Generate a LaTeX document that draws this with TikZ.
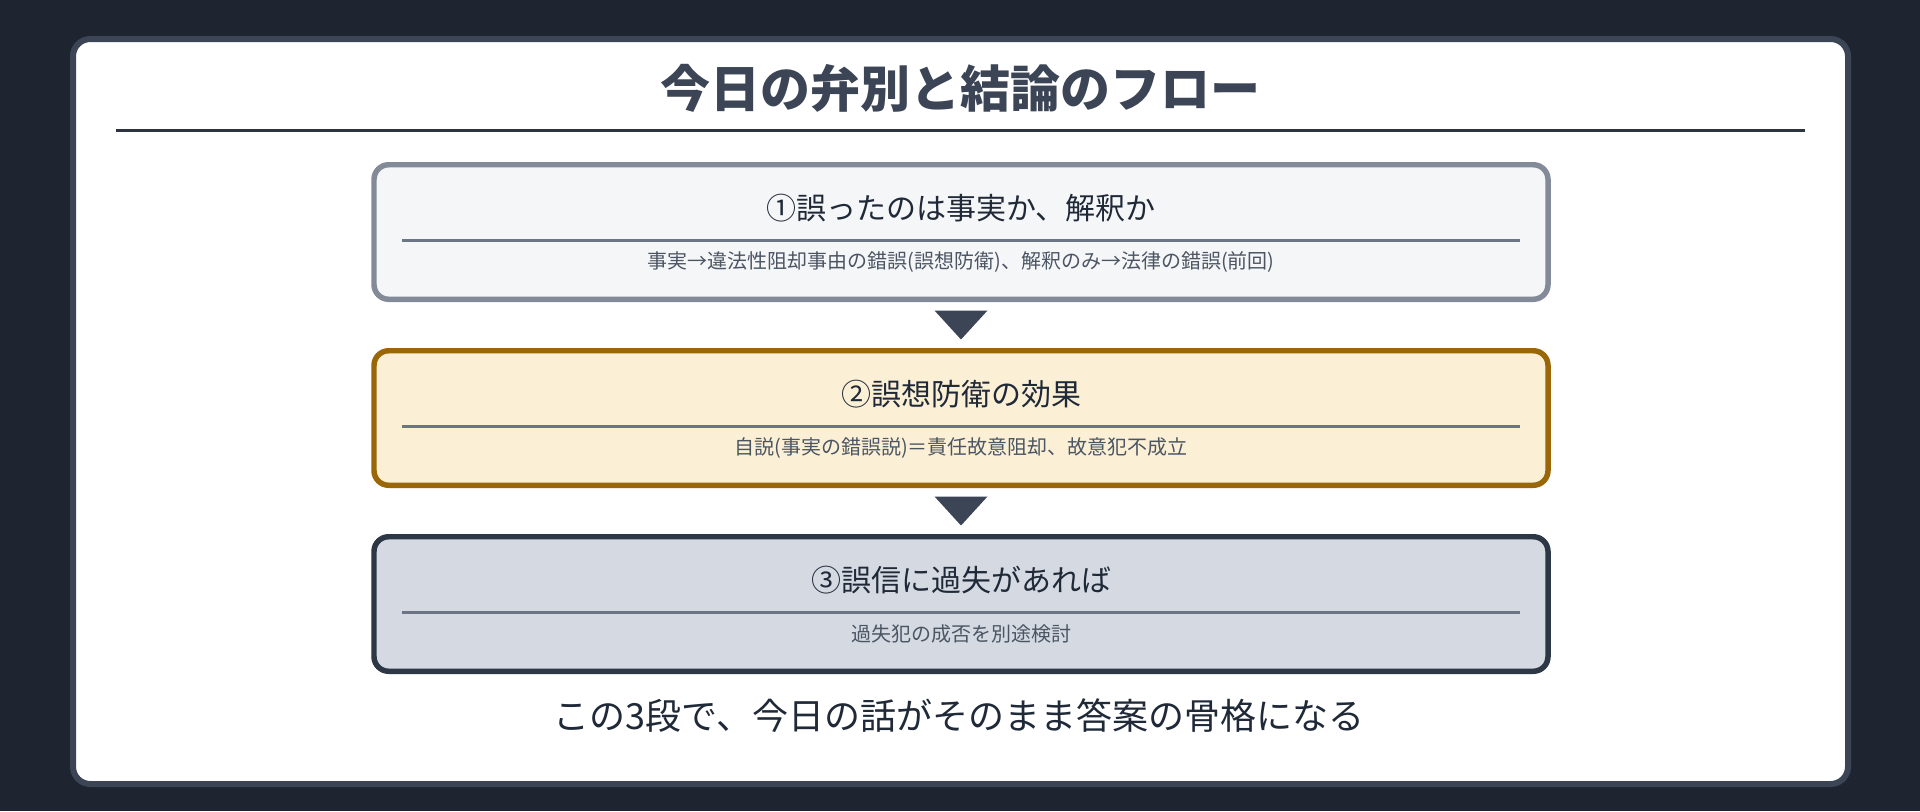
\documentclass[tikz,border=0pt]{standalone}
\usepackage{fontspec}
\setmainfont{Noto Sans CJK JP}
\usetikzlibrary{calc}
\definecolor{bgdark}{HTML}{1E2530}
\definecolor{panelline}{HTML}{3C4555}
\definecolor{titleslate}{HTML}{3C4555}
\definecolor{titlerule}{HTML}{2D3440}
\definecolor{boxAfill}{HTML}{F5F6F8}
\definecolor{boxAline}{HTML}{838B99}
\definecolor{boxBfill}{HTML}{FBF0D5}
\definecolor{boxBline}{HTML}{996608}
\definecolor{boxCfill}{HTML}{D5DAE2}
\definecolor{boxCline}{HTML}{2E3746}
\definecolor{rulegray}{HTML}{6B7585}
\definecolor{inkdark}{HTML}{1F2937}
\definecolor{subgray}{HTML}{4B5563}
\begin{document}
\begin{tikzpicture}[x=0.75pt,y=0.75pt,yscale=-1,xscale=1,
	stepbox/.style={draw, rounded corners=11pt, line width=4.1pt, minimum width=880.5pt, minimum height=100.9pt, inner sep=0pt},
	headtext/.style={inner sep=0pt, text=inkdark, font=\fontsize{22.5}{27}\selectfont},
	subtext/.style={inner sep=0pt, text=subgray, font=\fontsize{15}{18}\selectfont},
	innerrule/.style={draw=rulegray, line width=2.25pt},
	downtri/.style={fill=panelline}]

		%Shape: Rectangle [background]
		\fill [bgdark] (0,0) rectangle (1920,811) ;
		%Shape: Rectangle [panel]
		\draw [draw=panelline, fill=white, line width=4.5pt, rounded corners=13pt] (73,39) rectangle (1848,784) ;

		% Text Node
		\node [font=\bfseries\fontsize{37.5}{45}\selectfont, text=titleslate, inner sep=0pt] (title) at (960,88) {今日の弁別と結論のフロー};
		%Straight Lines [title rule]
		\coordinate (tl) at (116,130.5) ;
		\coordinate (tr) at (1805,130.5) ;
		\draw [draw=titlerule, line width=2.25pt] (tl) -- (tr) ;

		%Shape: Rounded Rect
		\node [stepbox, fill=boxAfill, draw=boxAline] (s1) at (961,232) {};
		\node [stepbox, fill=boxBfill, draw=boxBline] (s2) at (961,418) {};
		\node [stepbox, fill=boxCfill, draw=boxCline] (s3) at (961,604) {};

		% Text Node
		\node [headtext] (h1) at ($(s1.north)+(0,46.5)$) {①誤ったのは事実か、解釈か};
		\draw [innerrule] ($(s1.north west)+(31,78.5)$) -- ($(s1.north east)+(-31,78.5)$) ;
		\node [subtext] (d1) at ($(s1.north)+(0,100)$) {事実→違法性阻却事由の錯誤(誤想防衛)、解釈のみ→法律の錯誤(前回)};

		% Text Node
		\node [headtext] (h2) at ($(s2.north)+(0,46.5)$) {②誤想防衛の効果};
		\draw [innerrule] ($(s2.north west)+(31,78.5)$) -- ($(s2.north east)+(-31,78.5)$) ;
		\node [subtext] (d2) at ($(s2.north)+(0,100)$) {自説(事実の錯誤説)＝責任故意阻却、故意犯不成立};

		% Text Node
		\node [headtext] (h3) at ($(s3.north)+(0,46.5)$) {③誤信に過失があれば};
		\draw [innerrule] ($(s3.north west)+(31,78.5)$) -- ($(s3.north east)+(-31,78.5)$) ;
		\node [subtext] (d3) at ($(s3.north)+(0,100)$) {過失犯の成否を別途検討};

		%Shape: Triangle [between steps]
		\coordinate (m1) at ($(s1.south)!0.5!(s2.north)$) ;
		\fill [downtri] ($(m1)+(-26.5,-14.5)$) -- ($(m1)+(26.5,-14.5)$) -- ($(m1)+(0,14.5)$) -- cycle ;
		\coordinate (m2) at ($(s2.south)!0.5!(s3.north)$) ;
		\fill [downtri] ($(m2)+(-26.5,-14.5)$) -- ($(m2)+(26.5,-14.5)$) -- ($(m2)+(0,14.5)$) -- cycle ;

		% Text Node
		\node [inner sep=0pt, text=inkdark, font=\fontsize{27}{32}\selectfont] (foot) at (959,716) {この3段で、今日の話がそのまま答案の骨格になる};
\end{tikzpicture}
\end{document}
